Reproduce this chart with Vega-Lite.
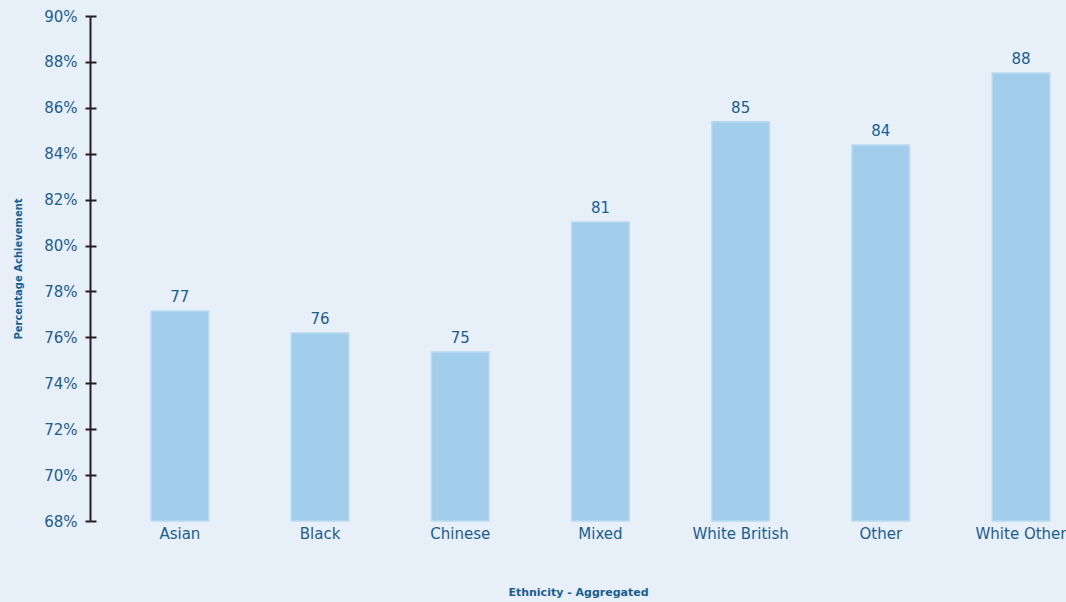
{
  "$schema": "https://vega.github.io/schema/vega-lite/v6.json",
  "width": 976,
  "height": 505,
  "autosize": {"type": "none"},
  "padding": {"left": 90, "top": 16, "right": 0, "bottom": 81},
  "background": "#e7eff8",
  "config": {
    "view": {"stroke": null},
    "font": "DejaVu Sans"
  },
  "resolve": {"axis": {"y": "independent"}, "scale": {"y": "shared"}},
  "data": {
    "values": [
      {"ethnicity": "Asian", "pct": 77.15},
      {"ethnicity": "Black", "pct": 76.19},
      {"ethnicity": "Chinese", "pct": 75.36},
      {"ethnicity": "Mixed", "pct": 81.03},
      {"ethnicity": "White British", "pct": 85.39},
      {"ethnicity": "Other", "pct": 84.38},
      {"ethnicity": "White Other", "pct": 87.52}
    ]
  },
  "encoding": {
    "x": {
      "field": "ethnicity",
      "type": "nominal",
      "sort": null,
      "scale": {"paddingInner": 0.59, "paddingOuter": 0.276, "align": 0.79},
      "axis": {
        "title": "Ethnicity - Aggregated",
        "titleFontSize": 11,
        "titleFontWeight": "bold",
        "titleColor": "#1b5e8e",
        "titlePadding": 45,
        "labelAngle": 0,
        "labelFontSize": 15,
        "labelColor": "#1b5e8e",
        "labelPadding": 5,
        "domain": false,
        "ticks": false
      }
    }
  },
  "layer": [
    {
      "mark": {"type": "bar", "color": "#a2cdeb", "stroke": "#b8daf0", "strokeWidth": 1.5},
      "encoding": {
        "y": {
          "field": "pct",
          "type": "quantitative",
          "scale": {"domain": [68, 90], "nice": false, "zero": false},
          "axis": {
            "title": "Percentage Achievement",
            "titleFontSize": 10,
            "titleFontWeight": "bold",
            "titleColor": "#1b5e8e",
            "titlePadding": 20,
            "values": [68, 70, 72, 74, 76, 78, 80, 82, 84, 86, 88, 90],
            "labelExpr": "datum.value + '%'",
            "labelFontSize": 15,
            "labelColor": "#1b5e8e",
            "labelPadding": 8,
            "domainColor": "#231f20",
            "domainWidth": 2,
            "tickColor": "#231f20",
            "tickWidth": 2,
            "tickSize": 5,
            "grid": false
          }
        },
        "y2": {"datum": 68}
      }
    },
    {
      "mark": {"type": "text", "dy": -6, "fontSize": 15, "color": "#1b5e8e", "baseline": "bottom"},
      "encoding": {
        "text": {"field": "pct", "type": "quantitative", "format": ".0f"},
        "y": {
          "field": "pct",
          "type": "quantitative",
          "axis": {
            "orient": "right",
            "offset": -976,
            "title": null,
            "labels": false,
            "domain": false,
            "values": [68, 70, 72, 74, 76, 78, 80, 82, 84, 86, 88, 90],
            "tickColor": "#231f20",
            "tickWidth": 2,
            "tickSize": 6,
            "grid": false
          }
        }
      }
    }
  ]
}
